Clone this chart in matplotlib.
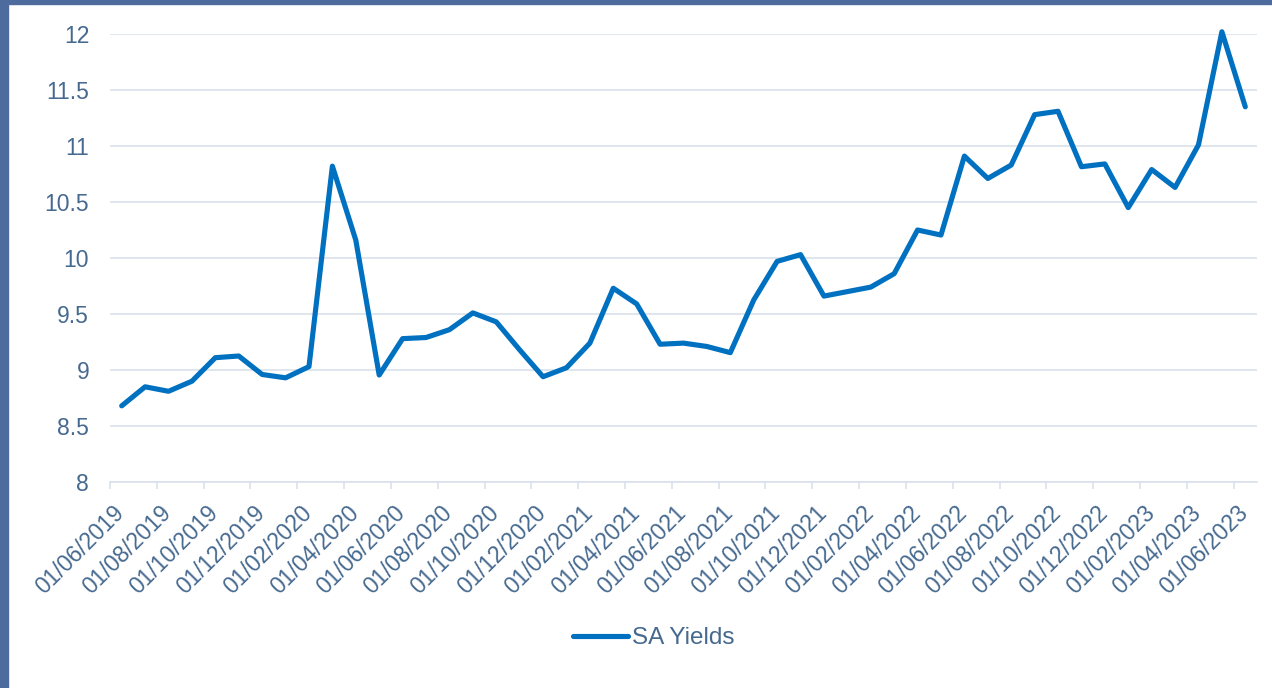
import numpy as np
import pandas as pd
import matplotlib
matplotlib.use('agg')
import matplotlib.pyplot as plt
import matplotlib.transforms as mtransforms
from matplotlib.patches import Rectangle

plt.rcParams['font.family'] = ['Liberation Sans', 'DejaVu Sans']

# monthly SA bond yields, Jun 2019 - Jun 2023
months = pd.date_range('2019-06-01', '2023-06-01', freq='MS')
yields = [8.68, 8.85, 8.81, 8.90, 9.11, 9.125, 8.96, 8.93, 9.03, 10.82,
          10.16, 8.955, 9.28, 9.29, 9.36, 9.51, 9.43, 9.18, 8.94, 9.02,
          9.24, 9.73, 9.59, 9.23, 9.24, 9.21, 9.155, 9.625, 9.97, 10.03,
          9.66, 9.70, 9.74, 9.86, 10.25, 10.205, 10.91, 10.71, 10.83, 11.28,
          11.31, 10.815, 10.84, 10.45, 10.79, 10.63, 11.01, 12.02, 11.35]
series_name = 'SA Yields'
y_ticks = [8, 8.5, 9, 9.5, 10, 10.5, 11, 11.5, 12]
y_labels = ['8', '8.5', '9', '9.5', '10', '10.5', '11', '11.5', '12']

line_col = '#0070C0'
text_col = '#46698F'
grid_col = '#D9E1EA'
frame_col = '#4E6B9E'

W, H = 1272, 688
fig = plt.figure(figsize=(W / 100, H / 100), dpi=100)
ax = fig.add_axes([110 / W, 206 / H, 1147 / W, 448 / H])

# points sit in the middle of each month slot
x = np.arange(len(yields)) + 0.5
ax.plot(x, yields, color=line_col, lw=3.7, solid_joinstyle='round',
        solid_capstyle='round', clip_on=False, label=series_name, zorder=3)

ax.set_xlim(0, len(yields))
ax.set_ylim(8, 12)
ax.set_yticks(y_ticks)
ax.set_yticklabels(y_labels)
ax.yaxis.grid(True, color=grid_col, lw=1.2, zorder=0)
ax.set_axisbelow(True)
ax.tick_params(axis='y', length=0, pad=15, labelsize=16.5, labelcolor=text_col)

for s in ['top', 'right', 'left']:
    ax.spines[s].set_visible(False)
ax.spines['bottom'].set_color(grid_col)
ax.spines['bottom'].set_linewidth(1.2)

ax.set_xticks(np.arange(0, len(yields), 2))
ax.set_xticklabels([m.strftime('%d/%m/%Y') for m in months[::2]],
                   rotation=45, ha='right', va='center', rotation_mode='anchor')
ax.tick_params(axis='x', length=5, width=1.2, color=grid_col, pad=15,
               labelsize=16.5, labelcolor=text_col)
shift = mtransforms.ScaledTranslation(0.11, 0, fig.dpi_scale_trans)
for lbl in ax.get_xticklabels():
    lbl.set_transform(lbl.get_transform() + shift)

fig.legend(loc='center', bbox_to_anchor=(654 / W, 1 - 638 / H), frameon=False,
           handlelength=2.25, handletextpad=0.16, fontsize=17.5,
           labelcolor=text_col)

# dark frame strips on the left and top edges
fig.patches.append(Rectangle((0, 0), 8 / W, 1, transform=fig.transFigure,
                             color=frame_col, zorder=0))
fig.patches.append(Rectangle((0, 1 - 3.5 / H), 1, 3.5 / H,
                             transform=fig.transFigure, color=frame_col, zorder=0))

fig.savefig('out.png', dpi=100)
